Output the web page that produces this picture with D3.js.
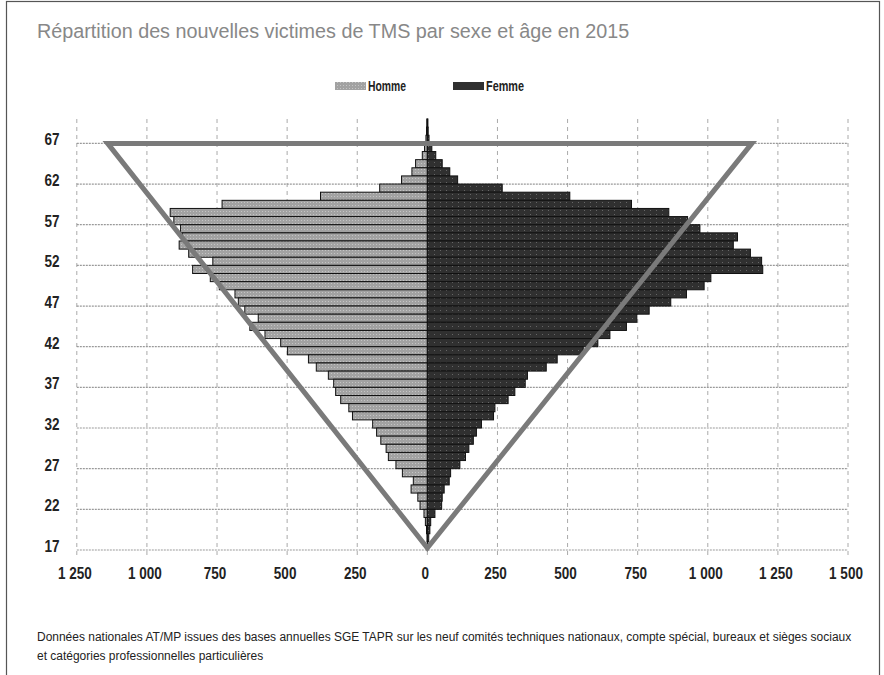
<!DOCTYPE html>
<html>
<head>
<meta charset="utf-8">
<script src="https://cdn.jsdelivr.net/npm/d3@7"></script>
<style>
  body { margin: 0; background: #fff; }
  svg { display: block; }
</style>
</head>
<body>
<div id="chart"></div>
<script>
// Ages (one bar per year of age)
var ages = [69, 68, 67, 66, 65, 64, 63, 62, 61, 60, 59, 58, 57, 56, 55, 54, 53, 52, 51, 50,
            49, 48, 47, 46, 45, 44, 43, 42, 41, 40, 39, 38, 37, 36, 35, 34, 33, 32, 31, 30,
            29, 28, 27, 26, 25, 24, 23, 22, 21, 20, 19, 18, 17];
var homme = [2, 3, 5, 10, 18, 42, 55, 92, 170, 381, 732, 917, 904, 880, 874, 885, 851, 765, 837, 774,
             742, 686, 674, 651, 603, 633, 579, 523, 499, 424, 396, 353, 334, 327, 309, 280, 267, 195, 181, 166,
             147, 139, 112, 89, 50, 58, 34, 26, 12, 7, 3, 1, 0];
var femme = [2, 3, 6, 16, 30, 53, 80, 108, 267, 508, 728, 861, 928, 972, 1106, 1091, 1152, 1192, 1196, 1011,
             987, 924, 868, 791, 747, 710, 651, 608, 556, 463, 424, 357, 349, 312, 288, 241, 236, 193, 175, 164,
             148, 136, 116, 83, 78, 60, 53, 51, 27, 12, 9, 5, 1];

// Axis ticks
var xTicks = [-1250, -1000, -750, -500, -250, 0, 250, 500, 750, 1000, 1250, 1500];
var yTicks = [17, 22, 27, 32, 37, 42, 47, 52, 57, 62, 67];

// Triangle annotation drawn over the pyramid (value, age)
var triangle = [[-1140, 67], [1157, 67], [0, 17.25]];

var title = "Répartition des nouvelles victimes de TMS par sexe et âge en 2015";
var footer = ["Données nationales AT/MP issues des bases annuelles SGE TAPR sur les neuf comités techniques nationaux, compte spécial, bureaux et sièges sociaux",
              "et catégories professionnelles particulières"];

var FONT = '"Liberation Sans", Arial, sans-serif';
var NARROW = 0.82;  // no narrow font installed, squeeze horizontally

var W = 884, H = 675;
var svg = d3.select("#chart").append("svg")
    .attr("width", W)
    .attr("height", H)
    .style("font-family", FONT);

// narrow text helper
function ntext(parent, px, py, str, size, opts) {
    opts = opts || {};
    var el = parent.append("text")
        .attr("transform", "translate(" + px + "," + py + ") scale(" + (opts.sx || NARROW) + ",1)")
        .attr("font-size", size)
        .attr("font-weight", opts.bold ? "bold" : "normal")
        .attr("text-anchor", opts.anchor || "start")
        .attr("fill", opts.fill || "#222")
        .text(str);
    return el;
}
// squeeze a text so that it spans a given width
function fitTo(el, px, py, w) {
    var len = el.node().getComputedTextLength();
    el.attr("transform", "translate(" + px + "," + py + ") scale(" + (w / len) + ",1)");
}

// frame
svg.append("rect")
    .attr("x", 6.5).attr("y", 1.5)
    .attr("width", 873).attr("height", 700)
    .attr("fill", "none")
    .attr("stroke", "#555")
    .attr("stroke-width", 1.2);

var x = d3.scaleLinear().domain([-1250, 1500]).range([76.8, 848]);
var y = d3.scaleLinear().domain([17, 70]).range([550, 119]);

// textures
var defs = svg.append("defs");
var pH = defs.append("pattern").attr("id", "pHomme")
    .attr("patternUnits", "userSpaceOnUse").attr("width", 3).attr("height", 3);
pH.append("rect").attr("width", 3).attr("height", 3).attr("fill", "#a2a2a2");
pH.append("rect").attr("x", 1).attr("y", 1).attr("width", 1).attr("height", 1).attr("fill", "#c4c4c4");
var pF = defs.append("pattern").attr("id", "pFemme")
    .attr("patternUnits", "userSpaceOnUse").attr("width", 6).attr("height", 4);
pF.append("rect").attr("width", 6).attr("height", 4).attr("fill", "#303030");
pF.append("rect").attr("x", 2).attr("y", 2).attr("width", 1).attr("height", 1).attr("fill", "#666");

// title
var t = ntext(svg, 37, 38, title, 21, {fill: "#888"});
fitTo(t, 37, 38, 592);

// legend
var legend = [
    {name: "Homme", fill: "url(#pHomme)", sx: 335, tx: 368},
    {name: "Femme", fill: "#303030", sx: 453, tx: 486}
];
legend.forEach(function(d) {
    svg.append("rect")
        .attr("x", d.sx).attr("y", 82)
        .attr("width", 31).attr("height", 8)
        .attr("fill", d.fill);
    var lt = ntext(svg, d.tx, 91, d.name, 14, {bold: true});
    fitTo(lt, d.tx, 91, 38);
});

// grid lines
svg.append("g").selectAll("line")
    .data(xTicks)
    .enter().append("line")
    .attr("x1", function(d) { return x(d); })
    .attr("x2", function(d) { return x(d); })
    .attr("y1", y(70))
    .attr("y2", y(17) + 5)
    .attr("stroke", "#aaa")
    .attr("stroke-width", 1)
    .attr("stroke-dasharray", "4,4");

svg.append("g").selectAll("line")
    .data(yTicks)
    .enter().append("line")
    .attr("x1", x(-1250))
    .attr("x2", x(1500))
    .attr("y1", function(d) { return y(d); })
    .attr("y2", function(d) { return y(d); })
    .attr("stroke", "#999")
    .attr("stroke-width", 1.2)
    .attr("stroke-dasharray", "2,1");

// bars
var rows = ages.map(function(a, i) { return {age: a, h: homme[i], f: femme[i]}; });
var bars = svg.append("g");
bars.selectAll(".h")
    .data(rows)
    .enter().append("rect")
    .attr("class", "h")
    .attr("x", function(d) { return x(-d.h); })
    .attr("y", function(d) { return y(d.age + 1); })
    .attr("width", function(d) { return x(0) - x(-d.h); })
    .attr("height", function(d) { return y(d.age) - y(d.age + 1); })
    .attr("fill", "url(#pHomme)")
    .attr("stroke", "#111")
    .attr("stroke-width", 1);
bars.selectAll(".f")
    .data(rows)
    .enter().append("rect")
    .attr("class", "f")
    .attr("x", x(0))
    .attr("y", function(d) { return y(d.age + 1); })
    .attr("width", function(d) { return x(d.f) - x(0); })
    .attr("height", function(d) { return y(d.age) - y(d.age + 1); })
    .attr("fill", "url(#pFemme)")
    .attr("stroke", "#111")
    .attr("stroke-width", 1);

// triangle
svg.append("path")
    .datum(triangle)
    .attr("d", d3.line().x(function(d) { return x(d[0]); }).y(function(d) { return y(d[1]); }).curve(d3.curveLinearClosed))
    .attr("fill", "none")
    .attr("stroke", "#7a7a7a")
    .attr("stroke-width", 5);

// axis labels
var fmt = function(v) { return d3.format(",")(Math.abs(v)).replace(/,/g, " "); };
var xl = svg.append("g");
xTicks.forEach(function(v) {
    ntext(xl, x(v) - 2, 579, fmt(v), 16.5, {bold: true, anchor: "middle"});
});
var yl = svg.append("g");
yTicks.forEach(function(a) {
    ntext(yl, 59.5, y(a) + 2, a, 16.5, {bold: true, anchor: "end"});
});

// footer
var f1 = ntext(svg, 37, 641, footer[0], 12.5);
var sx = 814 / f1.node().getComputedTextLength();
fitTo(f1, 37, 641, 814);
ntext(svg, 37, 660, footer[1], 12.5, {sx: sx});
</script>
</body>
</html>
